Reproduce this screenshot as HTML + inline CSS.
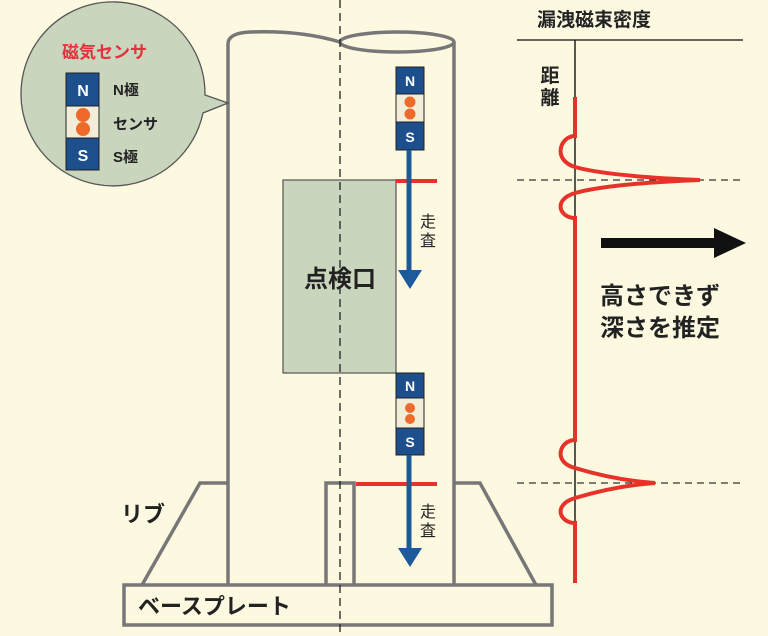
<!DOCTYPE html>
<html><head><meta charset="utf-8"><style>
html,body{margin:0;padding:0;background:#fcf9e0;}
svg{display:block;font-family:"Liberation Sans","Noto Sans CJK JP",sans-serif;}
</style></head><body>
<svg width="768" height="636" viewBox="0 0 768 636" xmlns="http://www.w3.org/2000/svg">
<rect width="768" height="636" fill="#fcf9e0"/>
<!-- pipe -->
<g fill="none" stroke="#777" stroke-width="3.5">
<path d="M228,585 L228,44 Q228,33 250,32 Q300,30 340,42"/>
<ellipse cx="397" cy="42" rx="57" ry="10"/>
<path d="M454,42 L454,585"/>
<path d="M142,585 L200,483 L228,483"/>
<path d="M454,483 L480,483 L536,585"/>
<path d="M326,585 L326,483 L354,483 L354,585"/>
<rect x="124" y="585" width="428" height="40" fill="#fcf9e0"/>
</g>
<rect x="283" y="180" width="113" height="193" fill="#c9d5bd" stroke="#555" stroke-width="1.2"/>
<text x="340" y="287" font-size="24" font-weight="bold" text-anchor="middle" fill="#222">点検口</text>
<line x1="340" y1="0" x2="340" y2="636" stroke="#222" stroke-width="1.3" stroke-dasharray="8,5"/>
<line x1="396" y1="181" x2="437" y2="181" stroke="#e63229" stroke-width="4"/>
<line x1="356" y1="484" x2="437" y2="484" stroke="#e63229" stroke-width="4"/>
<g stroke="#222" stroke-width="1">
<rect x="396" y="67" width="28" height="27" fill="#1c4f8c"/>
<rect x="396" y="94" width="28" height="28" fill="#f2edd8"/>
<rect x="396" y="122" width="28" height="28" fill="#1c4f8c"/>
<rect x="396" y="373" width="28" height="25" fill="#1c4f8c"/>
<rect x="396" y="398" width="28" height="30" fill="#f2edd8"/>
<rect x="396" y="428" width="28" height="27" fill="#1c4f8c"/>
</g>
<circle cx="410" cy="102" r="5.5" fill="#ee6a2a"/><circle cx="410" cy="114" r="5.5" fill="#ee6a2a"/>
<circle cx="410" cy="408" r="5" fill="#ee6a2a"/><circle cx="410" cy="419" r="5" fill="#ee6a2a"/>
<g font-size="14" font-weight="bold" fill="#fff" text-anchor="middle">
<text x="410" y="86">N</text><text x="410" y="142">S</text>
<text x="410" y="391">N</text><text x="410" y="447">S</text>
</g>
<g stroke="#1c5a9c" stroke-width="5"><line x1="409" y1="150" x2="409" y2="272"/><line x1="409" y1="455" x2="409" y2="550"/></g>
<polygon points="398,270 422,270 410,289" fill="#1c5a9c"/>
<polygon points="398,548 422,548 410,567" fill="#1c5a9c"/>
<g font-size="16" fill="#222" text-anchor="middle">
<text x="428" y="227">走</text><text x="428" y="246">査</text>
<text x="428" y="517">走</text><text x="428" y="536">査</text>
</g>
<text x="121" y="522" font-size="22" font-weight="bold" fill="#222">リブ</text>
<text x="138" y="614" font-size="22" font-weight="bold" fill="#222">ベースプレート</text>
<!-- bubble -->
<path d="M205,95 L228,103 L203,113 A92,92 0 1 1 205,95 Z" fill="#c9d5bd" stroke="#555" stroke-width="1.3"/>
<text x="62" y="58" font-size="17" font-weight="bold" fill="#e4313c">磁気センサ</text>
<g stroke="#222" stroke-width="1">
<rect x="66" y="73" width="33" height="33" fill="#1c4f8c"/>
<rect x="66" y="106" width="33" height="32" fill="#f2edd8"/>
<rect x="66" y="138" width="33" height="32" fill="#1c4f8c"/>
</g>
<circle cx="83" cy="115" r="7" fill="#ee6a2a"/><circle cx="83" cy="129" r="7" fill="#ee6a2a"/>
<g font-size="16" font-weight="bold" fill="#fff" text-anchor="middle"><text x="83" y="96">N</text><text x="83" y="161">S</text></g>
<g font-size="15" font-weight="bold" fill="#222"><text x="113" y="95">N極</text><text x="113" y="129">センサ</text><text x="113" y="162">S極</text></g>
<!-- graph -->
<text x="537" y="26" font-size="19" font-weight="bold" fill="#222">漏洩磁束密度</text>
<line x1="517" y1="40" x2="743" y2="40" stroke="#333" stroke-width="1.5"/>
<line x1="575" y1="40" x2="575" y2="525" stroke="#222" stroke-width="1.5"/>
<g font-size="19" font-weight="bold" fill="#222" text-anchor="middle"><text x="550" y="82">距</text><text x="550" y="104">離</text></g>
<g stroke="#333" stroke-width="1.2" stroke-dasharray="7,5">
<line x1="517" y1="180" x2="745" y2="180"/><line x1="517" y1="483" x2="745" y2="483"/></g>
<path d="M575,97 L575,136 C560,136 552,160 575,167 C600,174 650,178 700,180 C650,182 600,186 575,193 C552,200 560,218 575,218 L575,440 C560,440 552,462 575,468 C595,474 625,481 655,483 C625,485 595,492 575,498 C552,505 560,523 575,523 L575,583" fill="none" stroke="#e63229" stroke-width="4"/>
<line x1="601" y1="243" x2="718" y2="243" stroke="#111" stroke-width="10"/>
<polygon points="714,228 746,243 714,258" fill="#111"/>
<g font-size="24" font-weight="bold" fill="#222"><text x="600" y="304">高さできず</text><text x="600" y="336">深さを推定</text></g>
</svg>
</body></html>
